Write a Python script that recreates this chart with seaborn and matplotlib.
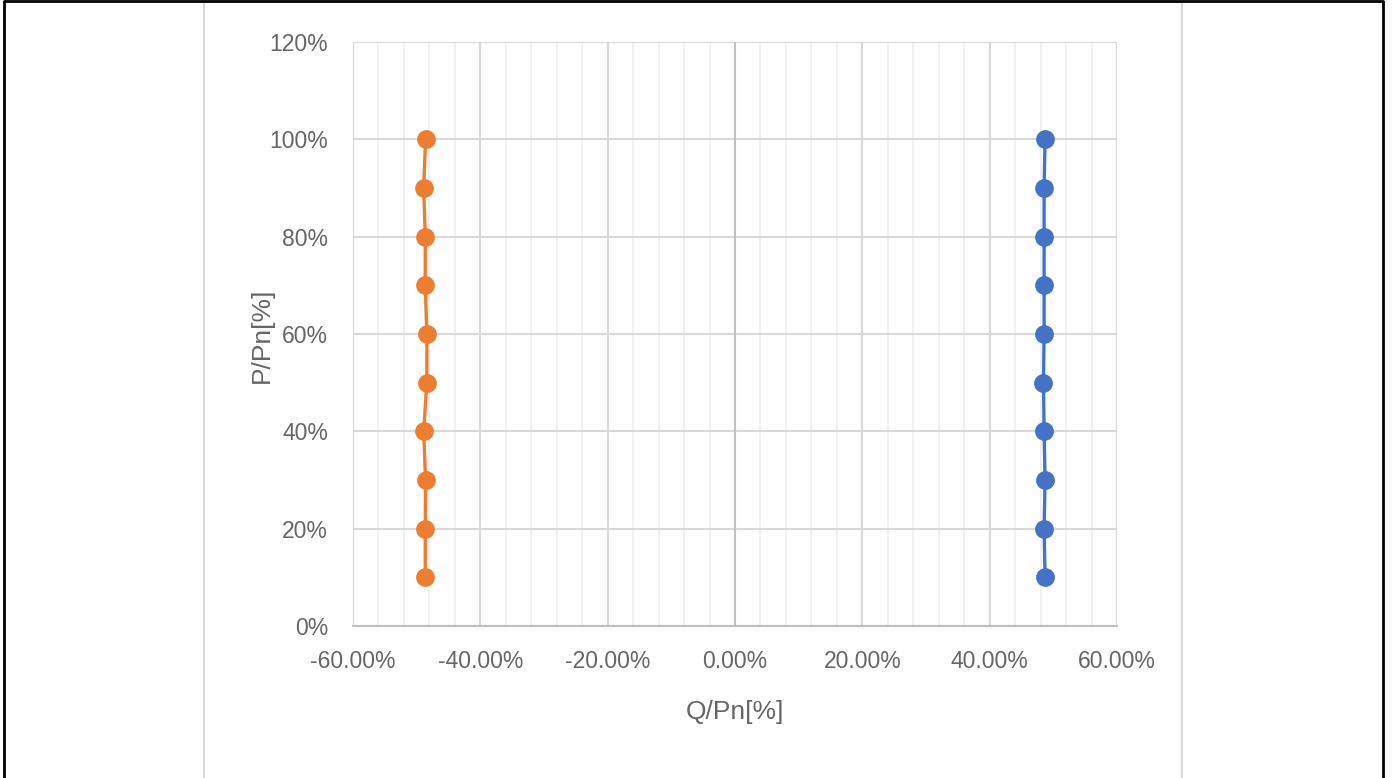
# Import Libraries
import pandas as pd
import numpy as np
import matplotlib.pyplot as plt
import seaborn as sns
from matplotlib.ticker import FuncFormatter, MultipleLocator
from matplotlib.lines import Line2D

# Data (percent values)
p_levels = [100, 90, 80, 70, 60, 50, 40, 30, 20, 10]
q_capacitive = [48.7, 48.55, 48.55, 48.55, 48.55, 48.45, 48.55, 48.7, 48.55, 48.7]
q_inductive = [-48.6, -48.9, -48.65, -48.65, -48.4, -48.4, -48.9, -48.6, -48.65, -48.65]
series_names = ["Q+", "Q-"]
series_colors = ["#4472C4", "#ED7D31"]

x_ticks = [-60, -40, -20, 0, 20, 40, 60]
y_ticks = [0, 20, 40, 60, 80, 100, 120]

# Set visual style
sns.set_theme(style="white")
plt.rcParams['font.family'] = ['Liberation Sans', 'DejaVu Sans']

df = pd.concat([
    pd.DataFrame({"Q": q_capacitive, "P": p_levels, "series": series_names[0]}),
    pd.DataFrame({"Q": q_inductive, "P": p_levels, "series": series_names[1]}),
])

fig = plt.figure(figsize=(13.93, 7.78), dpi=100)
ax = fig.add_axes([353 / 1393, 152 / 778, 764 / 1393, 584 / 778])

sns.lineplot(data=df, x="Q", y="P", hue="series", palette=series_colors,
             sort=False, estimator=None, marker="o", markersize=13.5,
             markeredgewidth=0, linewidth=2.4, legend=False, ax=ax, zorder=5)

ax.set_xlim(x_ticks[0], x_ticks[-1])
ax.set_ylim(y_ticks[0], y_ticks[-1])
ax.set_xticks(x_ticks)
ax.set_yticks(y_ticks)
ax.xaxis.set_minor_locator(MultipleLocator(4))
ax.xaxis.set_major_formatter(FuncFormatter(lambda v, _: f"{v:.2f}%"))
ax.yaxis.set_major_formatter(FuncFormatter(lambda v, _: f"{v:.0f}%"))

# Gridlines like the Excel original
ax.grid(which="major", axis="both", color="#d9d9d9", linewidth=1.5)
ax.grid(which="minor", axis="x", color="#efefef", linewidth=1.2)
ax.set_axisbelow(True)
ax.axvline(0, color="#bfbfbf", linewidth=1.3, zorder=2)
for side in ["top", "right", "left"]:
    ax.spines[side].set_visible(False)
ax.spines["bottom"].set_color("#bfbfbf")
ax.spines["bottom"].set_linewidth(1.5)

ax.tick_params(axis="both", which="both", length=0, labelsize=16.5,
               labelcolor="#666666")
ax.tick_params(axis="x", pad=17)
ax.tick_params(axis="y", pad=18)

ax.set_xlabel("Q/Pn[%]", fontsize=19, color="#666666")
ax.set_ylabel("P/Pn[%]", fontsize=19, color="#666666")
ax.xaxis.set_label_coords(0.5, -0.147)
ax.yaxis.set_label_coords(-0.119, 0.498)
ax.xaxis.label.set_verticalalignment("center")
ax.yaxis.label.set_verticalalignment("center")

# Chart area box and the outer frame
fig.add_artist(Line2D([204 / 1393, 204 / 1393, 1182 / 1393, 1182 / 1393],
                      [0, 776 / 778, 776 / 778, 0],
                      transform=fig.transFigure, color="#d9d9d9", linewidth=1.5))
fig.add_artist(Line2D([4 / 1393, 4 / 1393, 1383 / 1393, 1383 / 1393],
                      [0, 777 / 778, 777 / 778, 0],
                      transform=fig.transFigure, color="black", linewidth=2))

fig.savefig("out.png", dpi=100, facecolor="white")
